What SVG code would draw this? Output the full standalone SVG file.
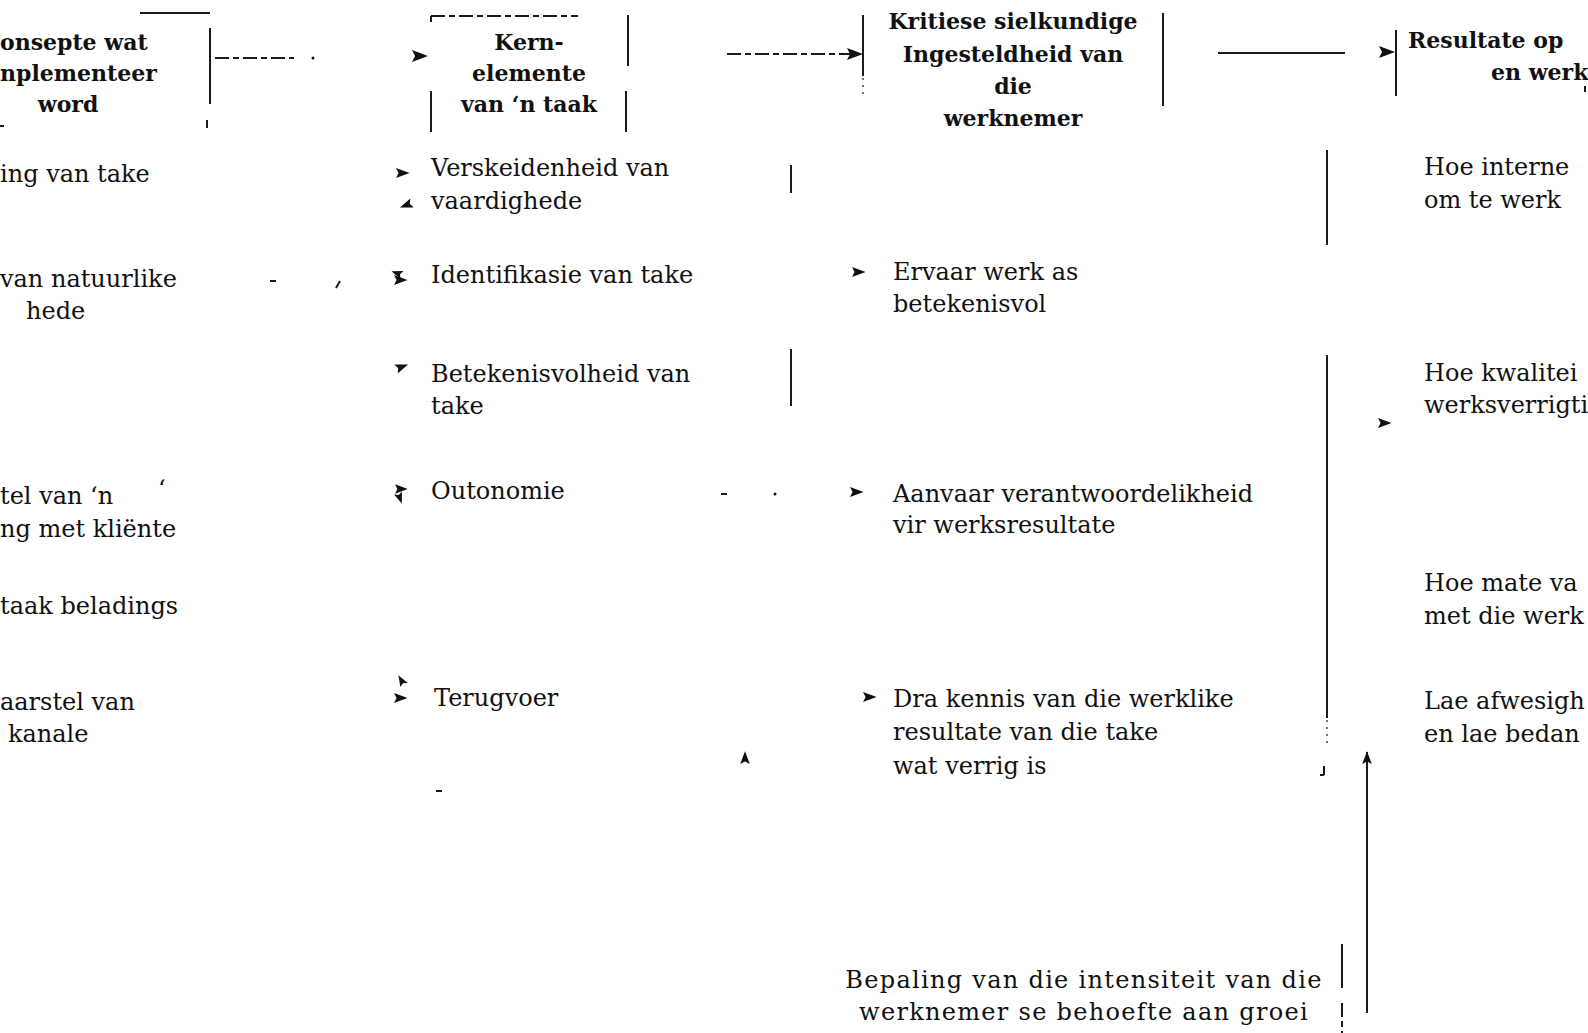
<svg xmlns="http://www.w3.org/2000/svg" xmlns:xlink="http://www.w3.org/1999/xlink" width="1588" height="1033" viewBox="0 0 1588 1033">
<style>
.h{font-family:"DejaVu Serif","Liberation Serif",serif;font-weight:bold;font-size:22px;fill:#111}
.t{font-family:"DejaVu Serif","Liberation Serif",serif;font-size:24px;fill:#111}
.c{text-anchor:middle}
.ln{stroke:#1a1a1a;stroke-width:2;fill:none}
.dl{stroke:#1a1a1a;stroke-width:2;fill:none;stroke-dasharray:14 4 6 4}
.dt{stroke:#444;stroke-width:1.5;fill:none;stroke-dasharray:2 5}
.ah{fill:#111}
</style>
<defs>
<path id="ah" d="M0,-6 L16,0 L0,6 L3,0 Z"/>
</defs>
<rect width="1588" height="1033" fill="#fff"/>

<g id="node-konsepte">
<line class="ln" x1="140" y1="13" x2="210" y2="13"/>
<line class="ln" x1="210" y1="28" x2="210" y2="104"/>
<line class="ln" x1="207" y1="120" x2="207" y2="128"/>
<line class="ln" x1="0" y1="126" x2="4" y2="126"/>
<text class="h" x="0" y="50">onsepte wat</text>
<text class="h" x="0" y="81">nplementeer</text>
<text class="h c" x="68" y="112">word</text>
</g>

<g id="node-kernelemente">
<line class="dl" x1="431" y1="16" x2="578" y2="16"/>
<line class="ln" x1="431" y1="16" x2="431" y2="22"/>
<line class="ln" x1="628" y1="15" x2="628" y2="66"/>
<line class="ln" x1="431" y1="91" x2="431" y2="132"/>
<line class="ln" x1="626" y1="91" x2="626" y2="132"/>
<text class="h c" x="529" y="50">Kern-</text>
<text class="h c" x="529" y="81">elemente</text>
<text class="h c" x="529" y="112">van ‘n taak</text>
</g>

<g id="node-kritiese">
<line class="ln" x1="863" y1="15" x2="863" y2="76"/>
<line class="dt" x1="863" y1="78" x2="863" y2="96"/>
<line class="ln" x1="1163" y1="13" x2="1163" y2="106"/>
<text class="h c" x="1013" y="29">Kritiese sielkundige</text>
<text class="h c" x="1013" y="62">Ingesteldheid van</text>
<text class="h c" x="1013" y="94">die</text>
<text class="h c" x="1013" y="126">werknemer</text>
</g>

<g id="node-resultate">
<line class="ln" x1="1396" y1="30" x2="1396" y2="96"/>
<line class="ln" x1="1585" y1="86" x2="1585" y2="92"/>
<text class="h" x="1408" y="48">Resultate op</text>
<text class="h" x="1491" y="80">en werk</text>
</g>

<g id="node-col1">
<text class="t" x="0" y="182">ing van take</text>
<text class="t" x="0" y="287">van natuurlike</text>
<text class="t" x="26" y="319">hede</text>
<text class="t" x="0" y="504">tel van ‘n</text>
<text class="t" x="158" y="497">‘</text>
<text class="t" x="0" y="537">ng met kliënte</text>
<text class="t" x="0" y="614">taak beladings</text>
<text class="t" x="0" y="710">aarstel van</text>
<text class="t" x="8" y="742">kanale</text>
</g>

<g id="node-col2">
<text class="t" x="431" y="176">Verskeidenheid van</text>
<text class="t" x="431" y="209">vaardighede</text>
<text class="t" x="431" y="283">Identifikasie van take</text>
<text class="t" x="431" y="382">Betekenisvolheid van</text>
<text class="t" x="431" y="414">take</text>
<text class="t" x="431" y="499">Outonomie</text>
<text class="t" x="434" y="706">Terugvoer</text>
</g>

<g id="node-col3">
<text class="t" x="893" y="280">Ervaar werk as</text>
<text class="t" x="893" y="312">betekenisvol</text>
<text class="t" x="893" y="502">Aanvaar verantwoordelikheid</text>
<text class="t" x="893" y="533">vir werksresultate</text>
<text class="t" x="893" y="707">Dra kennis van die werklike</text>
<text class="t" x="893" y="740">resultate van die take</text>
<text class="t" x="893" y="774">wat verrig is</text>
</g>

<g id="node-col4">
<text class="t" x="1424" y="175">Hoe interne</text>
<text class="t" x="1424" y="208">om te werk</text>
<text class="t" x="1424" y="381">Hoe kwalitei</text>
<text class="t" x="1424" y="413">werksverrigti</text>
<text class="t" x="1424" y="591">Hoe mate va</text>
<text class="t" x="1424" y="624">met die werk</text>
<text class="t" x="1424" y="709">Lae afwesigh</text>
<text class="t" x="1424" y="742">en lae bedan</text>
</g>

<g id="node-groei">
<line class="ln" x1="1342" y1="944" x2="1342" y2="988"/>
<line class="dl" x1="1342" y1="1003" x2="1342" y2="1033"/>
<text class="t c" x="1084" y="988" letter-spacing="1.3">Bepaling van die intensiteit van die</text>
<text class="t c" x="1084" y="1020" letter-spacing="1.3">werknemer se behoefte aan groei</text>
</g>

<g id="connectors">
<line class="dl" x1="215" y1="58" x2="294" y2="58"/>
<circle cx="313" cy="58" r="1.5" fill="#111"/>
<use xlink:href="#ah" class="ah" transform="translate(412,56)"/>
<line class="dl" x1="727" y1="54" x2="850" y2="54"/>
<use xlink:href="#ah" class="ah" transform="translate(847,54)"/>
<line class="ln" x1="1218" y1="53" x2="1345" y2="53"/>
<use xlink:href="#ah" class="ah" transform="translate(1379,52)"/>

<use xlink:href="#ah" class="ah" transform="translate(396,173) scale(0.85)"/>
<use xlink:href="#ah" class="ah" transform="translate(412,203) rotate(160) scale(0.8)"/>
<use xlink:href="#ah" class="ah" transform="translate(402,275) rotate(-160) scale(0.7)"/>
<use xlink:href="#ah" class="ah" transform="translate(394,280) scale(0.85)"/>
<use xlink:href="#ah" class="ah" transform="translate(396,369) rotate(-20) scale(0.8)"/>
<use xlink:href="#ah" class="ah" transform="translate(395,489) scale(0.8)"/>
<use xlink:href="#ah" class="ah" transform="translate(398,493) rotate(70) scale(0.7)"/>
<use xlink:href="#ah" class="ah" transform="translate(404,685) rotate(-120) scale(0.7)"/>
<use xlink:href="#ah" class="ah" transform="translate(394,698) scale(0.85)"/>
<line class="ln" x1="436" y1="791" x2="442" y2="791"/>
<line class="ln" x1="270" y1="281" x2="276" y2="281"/>
<line class="ln" x1="336" y1="288" x2="340" y2="281"/>

<line class="ln" x1="791" y1="165" x2="791" y2="193"/>
<line class="ln" x1="791" y1="349" x2="791" y2="406"/>
<line class="ln" x1="721" y1="494" x2="727" y2="494"/>
<circle cx="775" cy="494" r="1.5" fill="#111"/>
<use xlink:href="#ah" class="ah" transform="translate(745,764) rotate(-90) scale(0.8)"/>

<use xlink:href="#ah" class="ah" transform="translate(852,272) scale(0.85)"/>
<use xlink:href="#ah" class="ah" transform="translate(850,492) scale(0.85)"/>
<use xlink:href="#ah" class="ah" transform="translate(863,697) scale(0.85)"/>

<line class="ln" x1="1327" y1="150" x2="1327" y2="245"/>
<line class="ln" x1="1327" y1="355" x2="1327" y2="718"/>
<line class="dt" x1="1327" y1="720" x2="1327" y2="745"/>
<line class="ln" x1="1320" y1="775" x2="1324" y2="775"/>
<line class="ln" x1="1324" y1="766" x2="1324" y2="775"/>
<use xlink:href="#ah" class="ah" transform="translate(1378,423) scale(0.85)"/>
<line class="ln" x1="1367" y1="752" x2="1367" y2="1013"/>
<use xlink:href="#ah" class="ah" transform="translate(1367,764) rotate(-90) scale(0.8)"/>
</g>
</svg>
